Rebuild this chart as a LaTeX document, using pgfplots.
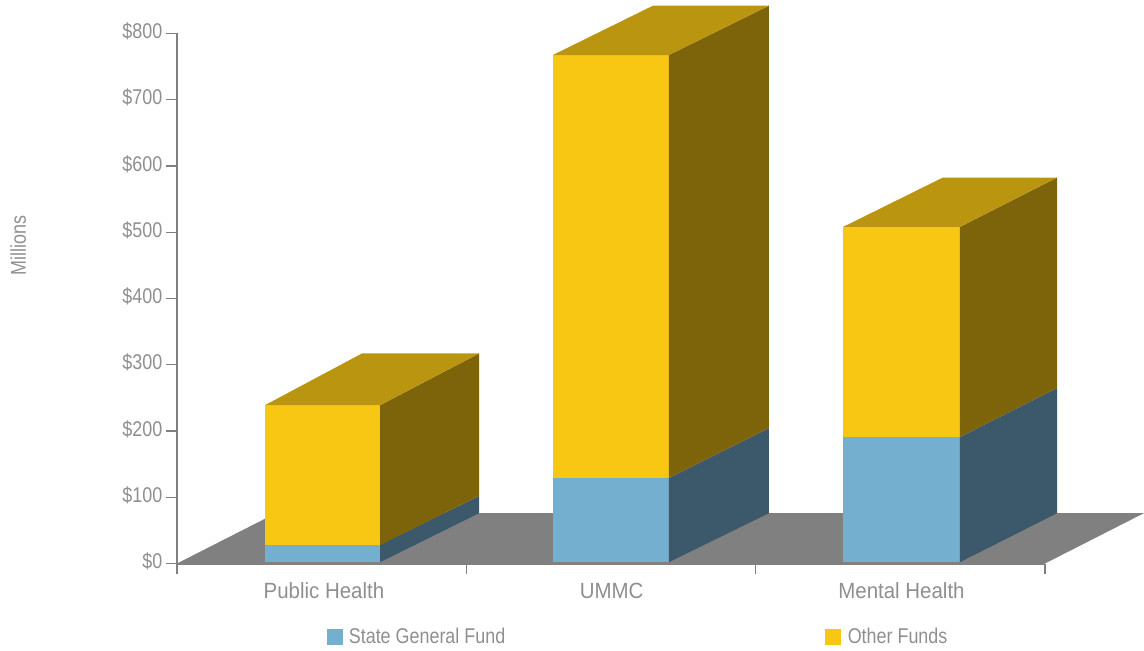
\documentclass[border=0pt]{standalone}
\usepackage{fontspec}
\setmainfont[FakeStretch=0.84]{Liberation Sans}
\newfontfamily\catfont[FakeStretch=0.93]{Liberation Sans}
\usepackage{pgfplots}
\pgfplotsset{compat=1.18}

\definecolor{stateblue}{HTML}{75AFCF}
\definecolor{stateside}{HTML}{3B596B}
\definecolor{otherfront}{HTML}{F8C714}
\definecolor{otherside}{HTML}{7D630A}
\definecolor{othertop}{HTML}{BA9510}
\definecolor{floorgray}{HTML}{808080}
\definecolor{txtgray}{HTML}{8F8F8F}

\begin{document}
\begin{tikzpicture}
% 1 px of the reference = 0.75pt
\useasboundingbox (-132.75pt,-64.875pt) rectangle (725.25pt,422.625pt);
\begin{axis}[
    at={(0pt,0pt)}, anchor=south west,
    scale only axis, width=651pt, height=397.5pt,
    xmin=0, xmax=3, ymin=0, ymax=800,
    clip=false, axis on top,
    axis lines=left,
    axis line style={-, draw=floorgray, line width=1.5pt},
    tick align=outside,
    major tick length=8pt,
    ytick={0,100,...,800},
    yticklabels={\$0,\$100,\$200,\$300,\$400,\$500,\$600,\$700,\$800},
    ytick style={draw=floorgray, line width=1.1pt},
    xtick={0.508,1.502,2.504},
    xticklabels={Public Health,UMMC,Mental Health},
    xtick style={draw=none},
    extra x ticks={0,1,2,3},
    extra x tick labels={},
    extra x tick style={xtick style={draw=floorgray, line width=1.1pt}},
    x tick label style={font=\catfont\fontsize{16.5pt}{18pt}\selectfont, text=txtgray,
        text height=12pt, text depth=0pt, yshift=-3pt},
    y tick label style={font=\fontsize{16pt}{18pt}\selectfont, text=txtgray, yshift=1.5pt, xshift=0.5pt},
    ylabel={Millions},
    ylabel style={at={(rel axis cs:-0.183,0.6)}, anchor=center,
        font=\fontsize{16pt}{18pt}\selectfont, text=txtgray},
    legend columns=2,
    legend image code/.code={\fill[#1, draw=none] (0pt,-6pt) rectangle (12pt,6pt);},
    legend style={at={(rel axis cs:0.1728,-0.1378)}, anchor=west, draw=none, fill=none,
        inner sep=0pt, outer sep=0pt, font=\fontsize{16pt}{18pt}\selectfont, text=txtgray,
        /tikz/column 1/.style={column sep=2.4pt},
        /tikz/column 2/.style={column sep=237.9pt},
        /tikz/column 3/.style={column sep=3pt}},
]
% floor
\addplot[forget plot, draw=none, fill=floorgray] coordinates {(0,0) (0.342,76) (3.342,76) (3,0)} --cycle;

% Public Health
\addplot[forget plot, draw=none, fill=stateblue] coordinates {(0.304,2) (0.702,2) (0.702,28) (0.304,28)} --cycle;
\addplot[forget plot, draw=none, fill=stateside] coordinates {(0.702,2) (1.044,76) (1.044,102) (0.702,28)} --cycle;
\addplot[forget plot, draw=none, fill=otherfront] coordinates {(0.304,28) (0.702,28) (0.702,239) (0.304,239)} --cycle;
\addplot[forget plot, draw=none, fill=otherside] coordinates {(0.702,28) (1.044,102) (1.044,317) (0.702,239)} --cycle;
\addplot[forget plot, draw=none, fill=othertop] coordinates {(0.304,239) (0.702,239) (1.044,317) (0.639,317)} --cycle;

% UMMC
\addplot[forget plot, draw=none, fill=stateblue] coordinates {(1.299,2) (1.700,2) (1.700,129) (1.299,129)} --cycle;
\addplot[forget plot, draw=none, fill=stateside] coordinates {(1.700,2) (2.046,76) (2.046,204.5) (1.700,129)} --cycle;
\addplot[forget plot, draw=none, fill=otherfront] coordinates {(1.299,129) (1.700,129) (1.700,767.5) (1.299,767.5)} --cycle;
\addplot[forget plot, draw=none, fill=otherside] coordinates {(1.700,129) (2.046,204.5) (2.046,842) (1.700,767.5)} --cycle;
\addplot[forget plot, draw=none, fill=othertop] coordinates {(1.299,767.5) (1.700,767.5) (2.046,842) (1.645,842)} --cycle;

% Mental Health
\addplot[forget plot, draw=none, fill=stateblue] coordinates {(2.302,2) (2.706,2) (2.706,191) (2.302,191)} --cycle;
\addplot[forget plot, draw=none, fill=stateside] coordinates {(2.706,2) (3.042,76) (3.042,265) (2.706,191)} --cycle;
\addplot[forget plot, draw=none, fill=otherfront] coordinates {(2.302,191) (2.706,191) (2.706,508) (2.302,508)} --cycle;
\addplot[forget plot, draw=none, fill=otherside] coordinates {(2.706,191) (3.042,265) (3.042,582.6) (2.706,508)} --cycle;
\addplot[forget plot, draw=none, fill=othertop] coordinates {(2.302,508) (2.706,508) (3.042,582.6) (2.647,582.6)} --cycle;

\addlegendimage{fill=stateblue}
\addlegendentry{State General Fund}
\addlegendimage{fill=otherfront}
\addlegendentry{Other Funds}
\end{axis}
\end{tikzpicture}
\end{document}
